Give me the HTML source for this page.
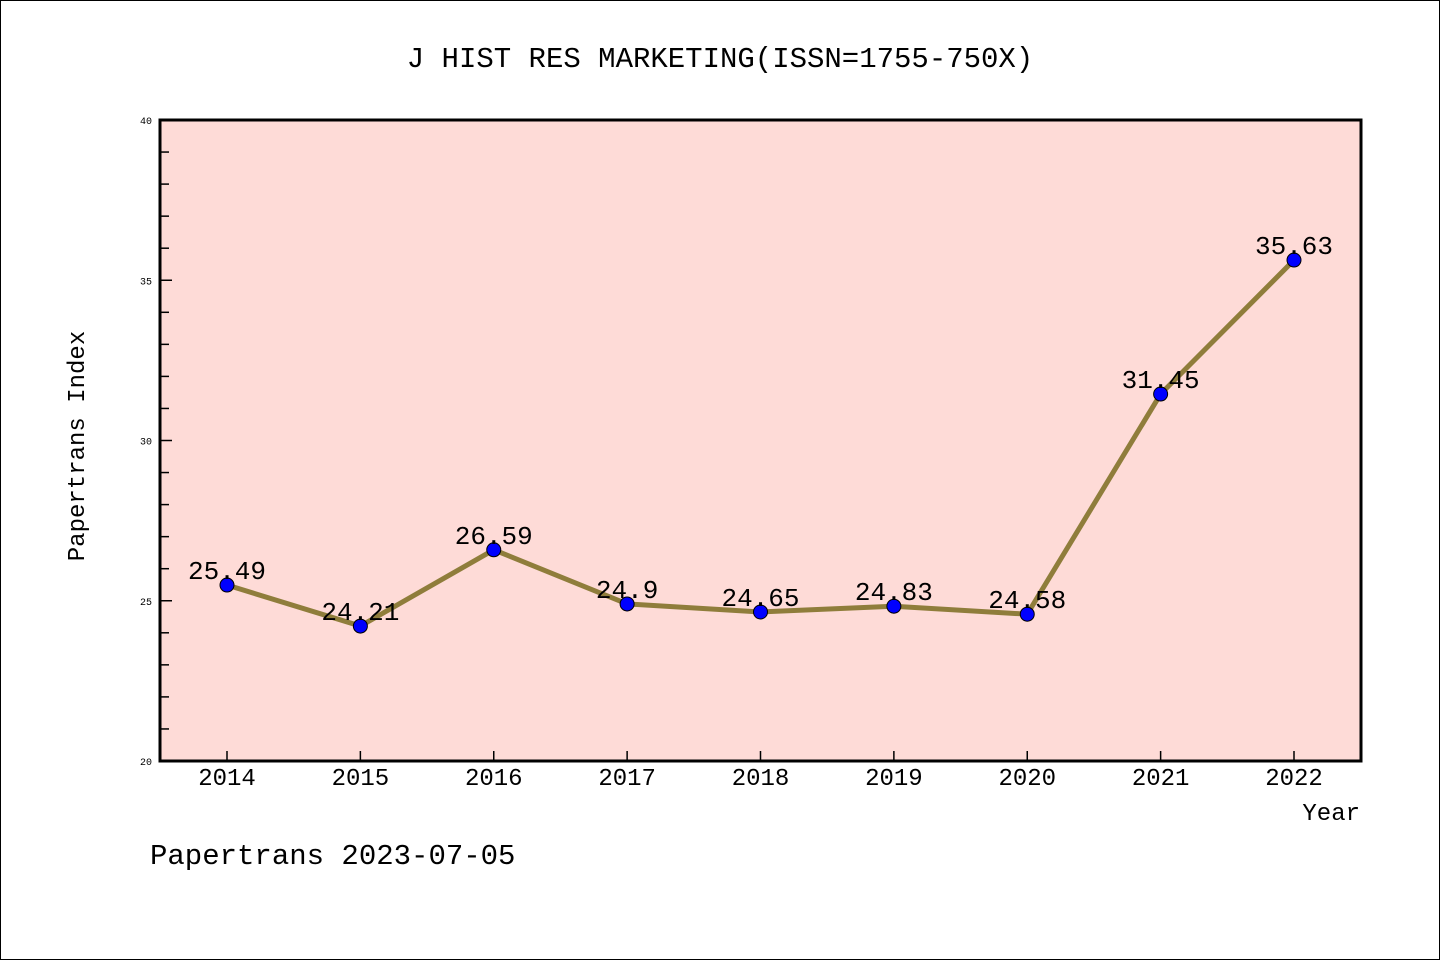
<!DOCTYPE html>
<html><head><meta charset="utf-8"><style>
html,body{margin:0;padding:0;background:#fff}
svg{display:block}
text{font-family:"Liberation Mono","WenQuanYi Zen Hei",monospace;fill:#000}
</style></head><body>
<svg width="1440" height="960" viewBox="0 0 1440 960">
<rect x="0.5" y="0.5" width="1439" height="959" fill="#fff" stroke="#000" stroke-width="1"/>
<text x="720" y="67" font-size="29" text-anchor="middle">J HIST RES MARKETING(ISSN=1755-750X)</text>
<rect x="160" y="120" width="1201" height="641" fill="#fedbd7"/>
<g id="ticks"></g>
<g id="series"></g>
<rect x="160" y="120" width="1201" height="641" fill="none" stroke="#000" stroke-width="3"/>
<text transform="translate(84,446) rotate(-90)" font-size="24" text-anchor="middle">Papertrans Index</text>
<text x="1360" y="820" font-size="24" text-anchor="end">Year</text>
<text x="150" y="864" font-size="29">Papertrans 2023-07-05</text>
</svg>
<script>
const years = [2014,2015,2016,2017,2018,2019,2020,2021,2022];
const values = [25.49,24.21,26.59,24.9,24.65,24.83,24.58,31.45,35.63];
const labels = ["25.49","24.21","26.59","24.9","24.65","24.83","24.58","31.45","35.63"];
const yTicks = [20,25,30,35,40];
const NS="http://www.w3.org/2000/svg";
const xs=y=>227+(y-2014)*(1294-227)/8;
const ys=v=>761-(v-20)*(641/20);
function mk(t,a,p){const e=document.createElementNS(NS,t);for(const k in a)e.setAttribute(k,a[k]);p.appendChild(e);return e;}
const tk=document.getElementById('ticks');
for(let v=20;v<=40;v++){
  const major=v%5===0;
  const l=mk('line',{x1:160,x2:major?172:169,y1:ys(v),y2:ys(v),stroke:'#000','stroke-width':1.5},tk);
  
  
}
yTicks.forEach(v=>{
  const t=mk('text',{x:152,y:ys(v)+4,'font-size':10,'text-anchor':'end'},tk);
  t.textContent=v;
  
  
});
years.forEach(y=>{
  const l=mk('line',{x1:xs(y),x2:xs(y),y1:761,y2:751,stroke:'#000','stroke-width':1.5},tk);
  
  
  const t=mk('text',{x:xs(y),y:785,'font-size':24,'text-anchor':'middle'},tk);
  t.textContent=y;
  
  
});
const sg=document.getElementById('series');
const pl=mk('polyline',{points:years.map((y,i)=>xs(y)+','+ys(values[i])).join(' '),fill:'none',stroke:'#8f7d3b','stroke-width':5},sg);


years.forEach((y,i)=>{
  const c=mk('circle',{cx:xs(y),cy:ys(values[i]),r:7,fill:'#0000ff',stroke:'#000','stroke-width':1},sg);
  
  
});
years.forEach((y,i)=>{
  const t=mk('text',{x:xs(y),y:ys(values[i])-6,'font-size':26,'text-anchor':'middle'},sg);
  t.textContent=labels[i];
  
  
});
</script>
</body></html>
